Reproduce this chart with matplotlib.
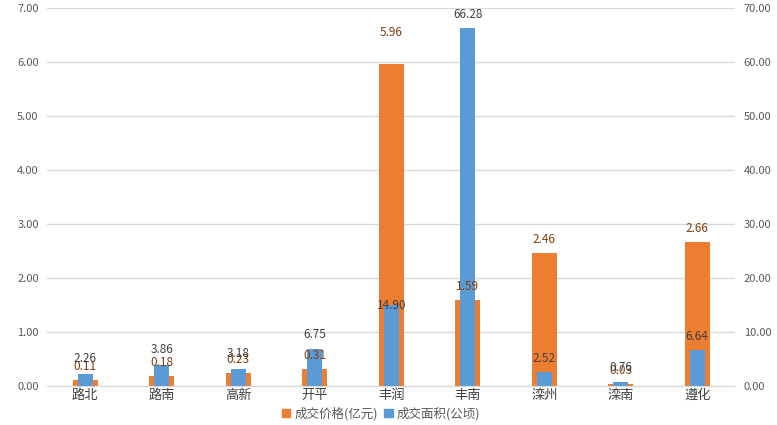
import matplotlib
matplotlib.use("Agg")
import matplotlib.pyplot as plt
import numpy as np
from matplotlib.patches import Patch

plt.rcParams['font.family'] = ['Noto Sans CJK SC', 'DejaVu Sans']

categories = ['路北', '路南', '高新', '开平', '丰润', '丰南', '滦州', '滦南', '遵化']
price = [0.11, 0.18, 0.23, 0.31, 5.96, 1.59, 2.46, 0.03, 2.66]
area = [2.26, 3.86, 3.18, 6.75, 14.90, 66.28, 2.52, 0.76, 6.64]
price_label_offset = [10, 10, 10, 10, 23, 10, 10, 10, 10]
area_label_offset = [11, 11, 11, 11, 0, 10, 10, 10, 10]

orange = '#ED7D31'
blue = '#5B9BD5'
tick_col = '#595959'

fig = plt.figure(figsize=(7.77, 4.25), dpi=100)
ax = fig.add_axes([0.0605, 0.092, 0.886, 0.889])
ax2 = ax.twinx()

x = np.arange(len(categories))
ax.bar(x, price, width=0.33, color=orange, zorder=2)
ax2.bar(x, area, width=0.2, color=blue, zorder=2)

ax.set_ylim(0, 7)
ax2.set_ylim(0, 70)
ax.set_xlim(-0.5, len(categories) - 0.5)
ax.set_yticks(np.arange(0, 7.01, 1))
ax.set_yticklabels([f'{v:.2f}' for v in np.arange(0, 7.01, 1)])
ax2.set_yticks(np.arange(0, 70.1, 10))
ax2.set_yticklabels([f'{v:.2f}' for v in np.arange(0, 70.1, 10)])
ax.set_xticks(x)
ax.set_xticklabels(categories)

for a in (ax, ax2):
    for s in ('left', 'right', 'top'):
        a.spines[s].set_visible(False)
    a.spines['bottom'].set_color('#d9d9d9')
    a.tick_params(axis='y', length=0, labelsize=8, colors=tick_col, pad=6)
ax.tick_params(axis='x', length=0, labelsize=9.5, colors='#404040', pad=2)
ax.yaxis.grid(True, color='#d9d9d9', linewidth=1, zorder=0)
ax.set_axisbelow(True)

for i in range(len(categories)):
    ax2.annotate(f'{price[i]:.2f}', (x[i], price[i]), xycoords=ax.transData,
                 xytext=(0, price_label_offset[i]),
                 textcoords='offset points', ha='center', va='center', fontsize=8.5,
                 color='#843C0C', zorder=5, annotation_clip=False)
    ax2.annotate(f'{area[i]:.2f}', (x[i], area[i]), xytext=(0, area_label_offset[i]),
                 textcoords='offset points', ha='center', va='center', fontsize=8.5,
                 color='#404040', zorder=6, annotation_clip=False)

handles = [Patch(color=orange, label='成交价格(亿元)'), Patch(color=blue, label='成交面积(公顷)')]
fig.legend(handles=handles, loc='center', bbox_to_anchor=(0.49, 0.027), ncol=2, frameon=False,
           fontsize=9, handlelength=0.7, handleheight=0.7, handletextpad=0.3, columnspacing=0.5,
           labelcolor='#595959')

fig.savefig('out.png', dpi=100)
